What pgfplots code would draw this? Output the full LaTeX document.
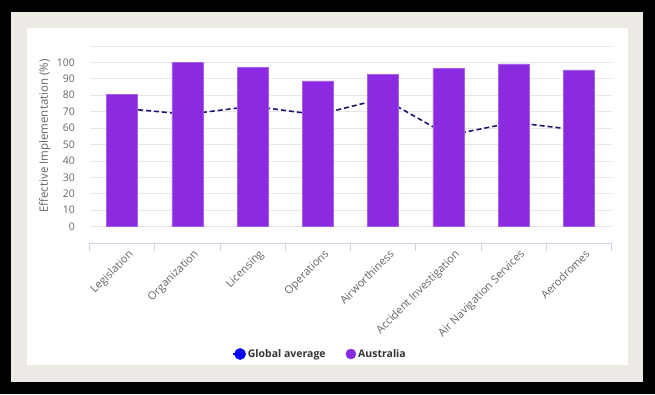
\documentclass[border=0pt]{standalone}
\usepackage{pgfplots}
\pgfplotsset{compat=1.18}
\usepackage{fontspec}
\setmainfont{Open Sans}
\definecolor{barc}{RGB}{138,43,226}
\definecolor{linec}{RGB}{25,25,112}
\definecolor{beige}{RGB}{237,233,228}
\definecolor{gridc}{RGB}{230,230,230}
\definecolor{axc}{RGB}{204,210,225}
\definecolor{txt}{RGB}{102,102,102}
\definecolor{legtxt}{RGB}{51,51,51}
\begin{document}
\begin{tikzpicture}[x=1pt,y=1pt]
\fill[black] (0,0) rectangle (655,394);
\fill[beige] (11,12) rectangle (643,382);
\fill[white] (27,29) rectangle (628,366);
\begin{axis}[
  at={(89.5pt,150.9pt)}, anchor=south west,
  scale only axis, width=522pt, height=197.2pt,
  xmin=-0.5, xmax=7.5, ymin=-10, ymax=110,
  axis x line*=bottom, axis y line*=left,
  y axis line style={draw=none},
  x axis line style={axc, line width=0.8pt},
  ytick={0,10,...,100},
  extra y ticks={110}, extra y tick labels={},
  extra y tick style={grid=major},
  ymajorgrids, grid style={gridc, line width=0.8pt},
  xtick={0,...,7},
  xticklabels={Legislation,Organization,Licensing,Operations,Airworthiness,Accident Investigation,Air Navigation Services,Aerodromes},
  minor xtick={-0.5,0.5,...,7.5},
  tick align=outside,
  major tick length=0pt, minor tick length=8pt,
  minor tick style={axc, line width=0.8pt},
  xticklabel style={rotate=45, anchor=north east, font=\fontsize{11}{13}\selectfont, text=txt, inner sep=1pt, yshift=-7pt, xshift=1pt},
  yticklabel style={font=\fontsize{10.5}{12}\selectfont, text=txt, xshift=-11pt},
  /pgf/number format/assume math mode=true,
  ylabel={Effective Implementation (\%)},
  ylabel style={at={(axis description cs:-0.0853,0.543)}, anchor=center, font=\fontsize{11.5}{13}\selectfont, text=txt},
  legend columns=2,
  legend style={at={(axis description cs:0.4416,-0.5624)}, anchor=center, draw=none, fill=none,
    font=\fontsize{10.5}{12}\selectfont\bfseries, text=legtxt,
    /tikz/every even column/.append style={column sep=18pt}},
]
\addplot[linec, line width=1.6pt, dash pattern=on 5pt off 3pt,
  legend image code/.code={\draw[linec, line width=1.6pt, solid] (-2pt,0pt) -- (6pt,0pt); \fill[blue, solid] (5pt,0pt) circle (5pt);}]
  coordinates {(0,72) (1,68.4) (2,73.3) (3,68.1) (4,78) (5,55.5) (6,63.5) (7,58.7)};
\addlegendentry{Global average}
\addplot[ybar, bar width=31pt, fill=barc, draw=barc!75!white, line width=0.5pt,
  legend image code/.code={\fill[barc] (5pt,0pt) circle (5pt);}]
  coordinates {(0,80.4) (1,99.8) (2,97.1) (3,88.7) (4,92.8) (5,96.4) (6,99.1) (7,95.4)};
\addlegendentry{Australia}
\end{axis}
\end{tikzpicture}
\end{document}
